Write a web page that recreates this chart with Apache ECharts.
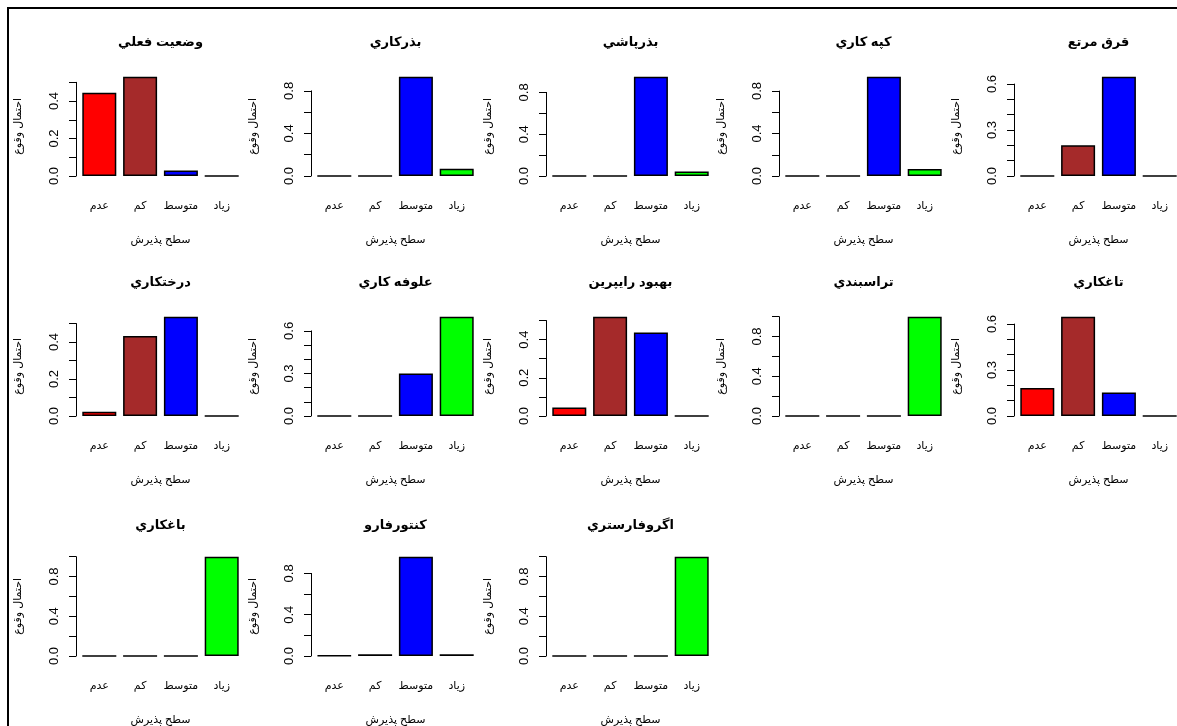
<!DOCTYPE html>
<html><head><meta charset="utf-8">
<script src="https://cdn.jsdelivr.net/npm/echarts@6/dist/echarts.min.js"></script>
<style>html,body{margin:0;padding:0;background:#fff}#c{width:1177px;height:726px}</style>
</head><body><div id="c"></div>
<script>
// ---- data ----
const categories = ['عدم', 'كم', 'متوسط', 'زياد'];
const barColors = ['#FF0000', '#A52A2A', '#0000FF', '#00FF00'];
const panelTitles = ['وضعيت فعلي', 'بذركاري', 'بذرپاشي', 'كپه كاري', 'قرق مرتع',
  'درختكاري', 'علوفه كاري', 'بهبود رايپرين', 'تراسبندي', 'تاغكاري',
  'باغكاري', 'كنتورفارو', 'اگروفارستري'];
const vCurrent = [0.444, 0.53, 0.03, 0];
const vSeeding = [0, 0, 0.933, 0.067];
const vBroadcast = [0, 0, 0.95, 0.043];
const vPitSeeding = [0, 0, 0.935, 0.065];
const vExclosure = [0, 0.2, 0.648, 0];
const vPlanting = [0.023, 0.432, 0.537, 0];
const vForage = [0, 0, 0.3, 0.7];
const vRiparian = [0.045, 0.52, 0.437, 0];
const vTerracing = [0, 0, 0, 1.0];
const vHaloxylon = [0.183, 0.648, 0.154, 0];
const vOrchard = [0, 0, 0, 1.0];
const vContour = [0.003, 0.016, 0.962, 0.016];
const vAgroforestry = [0, 0, 0, 1.0];
const panelValues = [vCurrent, vSeeding, vBroadcast, vPitSeeding, vExclosure,
  vPlanting, vForage, vRiparian, vTerracing, vHaloxylon,
  vOrchard, vContour, vAgroforestry];
// y tick layout (R pretty ticks): last tick, tick step, labelled step
const axisTop   = [0.5, 0.8, 0.8, 0.8, 0.6, 0.5, 0.6, 0.5, 1.0, 0.6, 1.0, 0.8, 1.0];
const tickStep  = [0.1, 0.2, 0.2, 0.2, 0.1, 0.1, 0.1, 0.1, 0.2, 0.1, 0.2, 0.2, 0.2];
const labelStep = [0.2, 0.4, 0.4, 0.4, 0.3, 0.2, 0.3, 0.2, 0.4, 0.3, 0.4, 0.4, 0.4];
const yLabel = 'احتمال وقوع';
const xLabel = 'سطح پذيرش';

// ---- layout ----
const F = 'Liberation Sans, Arial, DejaVu Sans, sans-serif';
const colAxisX = [76, 311, 546, 779, 1014];
const rowZeroY = [176, 416, 656];
const rowTitleY = [45, 285, 528];
const plotH = 99.3;
const catW = 40.8;

const chart = echarts.init(document.getElementById('c'), null, {renderer: 'canvas'});
const grids = [], xAxes = [], yAxes = [], series = [], titles = [];

panelValues.forEach((vals, i) => {
  const r = Math.floor(i / 5), c = i % 5;
  const ax = colAxisX[c], zy = rowZeroY[r];
  const vmax = Math.max(...vals);
  const gLeft = ax + 2.9, gW = catW * 4;
  // bar grid
  grids.push({left: gLeft, top: zy - plotH, width: gW, height: plotH, containLabel: false, outerBoundsMode: 'none'});
  const gi = grids.length - 1;
  xAxes.push({
    type: 'category', gridIndex: gi, data: categories,
    axisLine: {show: false}, axisTick: {show: false}, splitLine: {show: false},
    axisLabel: {interval: 0, margin: 24, fontSize: 11, color: '#000', fontFamily: F},
    name: xLabel, nameLocation: 'middle', nameGap: 58,
    nameTextStyle: {fontSize: 11, color: '#000', fontFamily: F}
  });
  yAxes.push({
    type: 'value', gridIndex: gi, min: 0, max: vmax,
    axisLine: {show: false}, axisTick: {show: false}, axisLabel: {show: false}, splitLine: {show: false},
    name: yLabel, nameLocation: 'middle', nameRotate: 90, nameGap: 55,
    nameTextStyle: {fontSize: 11, color: '#000', fontFamily: F}
  });
  series.push({
    type: 'bar', xAxisIndex: gi, yAxisIndex: gi, animation: false, silent: true,
    barCategoryGap: '16.67%',
    itemStyle: {borderColor: '#000', borderWidth: 1.5},
    data: vals.map((v, k) => ({value: v, itemStyle: {color: barColors[k]}}))
  });
  // axis grid (R-style y axis spanning 0..last tick)
  const aH = plotH * axisTop[i] / vmax;
  grids.push({left: ax, top: zy - aH, width: 1, height: aH, containLabel: false, outerBoundsMode: 'none'});
  const ai = grids.length - 1;
  xAxes.push({type: 'value', gridIndex: ai, show: false, min: 0, max: 1});
  const ls = labelStep[i];
  yAxes.push({
    type: 'value', gridIndex: ai, min: 0, max: axisTop[i], interval: tickStep[i],
    axisLine: {show: true, lineStyle: {color: '#000', width: 1}},
    axisTick: {show: true, length: 7, lineStyle: {color: '#000', width: 1}},
    splitLine: {show: false},
    axisLabel: {
      rotate: 90, margin: 15, fontSize: 13, color: '#000', fontFamily: F,
      showMinLabel: true, showMaxLabel: true,
      formatter: v => (Math.abs(v / ls - Math.round(v / ls)) < 1e-6 ? v.toFixed(1) : '')
    }
  });
  titles.push({
    text: panelTitles[i], left: gLeft + gW / 2, top: rowTitleY[r] - 9, textAlign: 'center', padding: 0,
    textStyle: {fontSize: 13, fontWeight: 'bold', color: '#000', fontFamily: F}
  });
});

chart.setOption({
  animation: false,
  backgroundColor: '#fff',
  title: titles,
  grid: grids,
  xAxis: xAxes,
  yAxis: yAxes,
  series: series,
  graphic: [{
    type: 'rect', silent: true,
    shape: {x: 8, y: 8, width: 1200, height: 800},
    style: {fill: null, stroke: '#000', lineWidth: 2}
  }]
});
</script>
</body></html>
